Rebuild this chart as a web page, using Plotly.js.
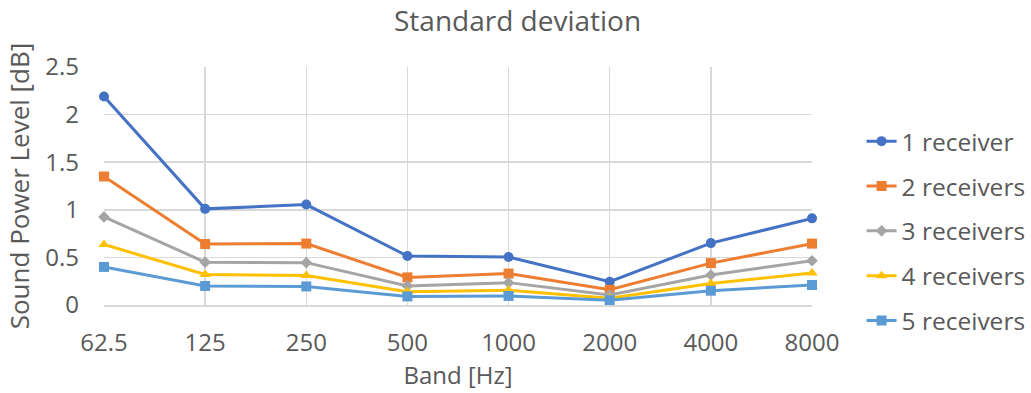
<!DOCTYPE html>
<html>
<head>
<meta charset="utf-8">
<script src="https://cdn.plot.ly/plotly-3.0.1.min.js"></script>
<style>html,body{margin:0;padding:0;background:#fff;}#chart{width:1031px;height:393px;}</style>
</head>
<body>
<div id="chart"></div>
<script>
const bands = ["62.5", "125", "250", "500", "1000", "2000", "4000", "8000"];
const seriesNames = ["1 receiver", "2 receivers", "3 receivers", "4 receivers", "5 receivers"];
const rec1 = [2.19, 1.01, 1.055, 0.515, 0.505, 0.245, 0.65, 0.91];
const rec2 = [1.35, 0.64, 0.645, 0.29, 0.33, 0.16, 0.44, 0.645];
const rec3 = [0.925, 0.45, 0.445, 0.20, 0.235, 0.105, 0.315, 0.465];
const rec4 = [0.635, 0.32, 0.31, 0.14, 0.155, 0.07, 0.225, 0.335];
const rec5 = [0.40, 0.20, 0.195, 0.09, 0.095, 0.05, 0.15, 0.21];
const yTicks = [0, 0.5, 1, 1.5, 2, 2.5];
const yTickText = ["0", "0.5", "1", "1.5", "2", "2.5"];

const values = [rec1, rec2, rec3, rec4, rec5];
const colors = ["#4472C4", "#ED7D31", "#A5A5A5", "#FFC000", "#5B9BD5"];
const symbols = ["circle", "square", "diamond", "triangle-up", "square"];
const sizes = [10, 10, 9, 10, 10];

const traces = values.map((v, i) => ({
  type: "scatter",
  mode: "lines+markers",
  x: bands,
  y: v,
  name: seriesNames[i],
  legendgroup: "g" + i,
  line: {color: colors[i], width: 3},
  marker: {color: colors[i], symbol: symbols[i], size: sizes[i]},
  cliponaxis: false
}));

const fontFam = "Open Sans, sans-serif";
const layout = {
  width: 1031, height: 393,
  margin: {l: 104, r: 219, t: 67, b: 88, autoexpand: false},
  paper_bgcolor: "#fff", plot_bgcolor: "#fff",
  font: {family: fontFam, size: 24, color: "#595959"},
  title: {text: "Standard deviation", x: 0.502, xref: "container", y: 0.945, yref: "container", yanchor: "middle",
          font: {family: fontFam, size: 28, color: "#595959"}},
  xaxis: {
    type: "category", range: [0, 7], automargin: false,
    showgrid: true, gridcolor: "#d9d9d9", gridwidth: 1.5,
    showline: true, linecolor: "#d9d9d9", linewidth: 1.5,
    ticks: "", ticklabelstandoff: 16,
    tickfont: {family: fontFam, size: 24, color: "#595959"},
    title: {text: "Band [Hz]", standoff: 8, font: {family: fontFam, size: 24, color: "#595959"}},
    zeroline: false, fixedrange: true
  },
  yaxis: {
    range: [0, 2.5], tickvals: yTicks, ticktext: yTickText, automargin: false,
    showgrid: true, gridcolor: "#d9d9d9", gridwidth: 1.5,
    showline: false, ticks: "", ticklabelstandoff: 24,
    tickfont: {family: fontFam, size: 24, color: "#595959"},
    title: {text: "Sound Power Level [dB]", standoff: 8, font: {family: fontFam, size: 26, color: "#595959"}},
    zeroline: false, fixedrange: true
  },
  legend: {
    x: 1.07, xanchor: "left", y: 0.31, yanchor: "middle",
    font: {family: fontFam, size: 24.5, color: "#595959"},
    tracegroupgap: 10, bgcolor: "rgba(0,0,0,0)"
  },
  showlegend: true
};

Plotly.newPlot("chart", traces, layout, {displayModeBar: false, staticPlot: true});
</script>
</body>
</html>
